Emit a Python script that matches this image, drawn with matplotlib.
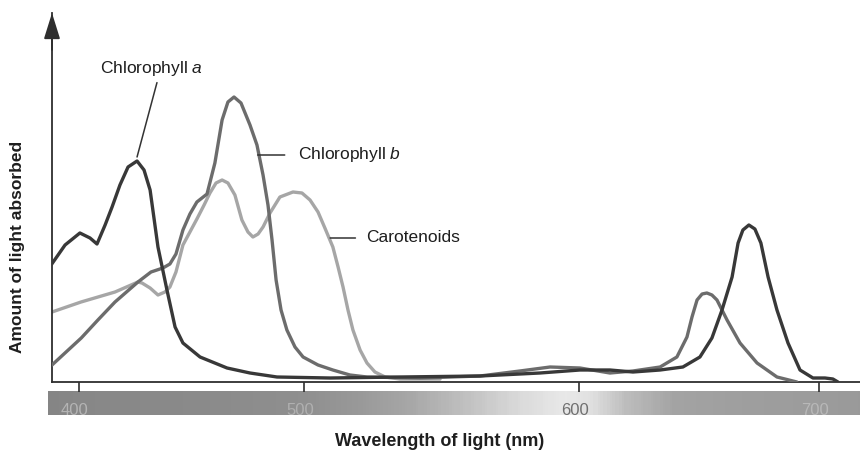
import numpy as np
import matplotlib
matplotlib.use("Agg")
import matplotlib.pyplot as plt
from matplotlib.colors import LinearSegmentedColormap
from matplotlib.transforms import ScaledTranslation

plt.rcParams['font.family'] = ['Liberation Sans', 'DejaVu Sans']
plt.rcParams['mathtext.fontset'] = 'custom'
plt.rcParams['mathtext.rm'] = 'Liberation Sans'
plt.rcParams['mathtext.it'] = 'Liberation Sans:italic'

# ---------------- data (wavelength in nm, absorbance in arbitrary units) -------------
chla_nm = [387.6, 393.8, 400.4, 404.9, 408.0, 411.6, 414.7, 418.2, 421.8, 425.8, 428.9,
           431.6, 435.1, 439.1, 442.7, 446.2, 453.8, 465.8, 476.0, 488.0, 509.5, 534.9,
           564.0, 585.8, 600.4, 612.9, 622.5, 633.8, 643.3, 650.4, 655.4, 659.6, 663.8,
           666.3, 668.3, 670.8, 673.3, 675.8, 678.8, 682.5, 687.1, 692.1, 697.5, 702.5,
           705.8, 707.9]
chla_val = [117, 137, 149, 144, 138, 157, 175, 197, 215, 221, 212,
            192, 135, 92, 55, 39, 25, 14, 9, 5, 4, 5,
            6, 9, 12, 12, 10, 12, 15, 25, 44, 72, 105,
            139, 152, 157, 153, 139, 105, 72, 39, 12, 4, 4,
            3, 0]

chlb_nm = [388.0, 401.0, 408.4, 416.0, 426.2, 432.0, 437.3, 440.4, 443.1, 446.2, 449.3,
           452.4, 456.9, 460.4, 463.6, 466.2, 468.9, 472.0, 476.0, 479.1, 481.8, 484.0,
           485.8, 487.6, 489.8, 492.4, 496.0, 499.6, 505.1, 510.5, 516.7, 522.9, 542.2,
           564.0, 578.5, 589.5, 600.4, 612.9, 622.5, 633.8, 640.8, 645.0, 647.1, 649.2,
           651.3, 653.3, 655.4, 657.5, 661.7, 667.1, 674.2, 682.5, 690.8]
chlb_val = [17, 44, 62, 80, 100, 110, 114, 118, 128, 152, 168,
            180, 188, 219, 262, 280, 285, 279, 257, 237, 207, 177,
            142, 102, 72, 52, 35, 25, 17, 12, 7, 5, 4,
            6, 11, 15, 14, 9, 11, 15, 25, 45, 65, 82,
            88, 89, 87, 82, 62, 39, 19, 5, 0]

car_nm = [388.0, 400.9, 416.0, 426.2, 428.0, 431.6, 435.1, 438.2, 440.4, 443.1, 446.2,
          449.3, 452.4, 455.6, 458.2, 460.9, 463.6, 466.2, 469.3, 472.4, 475.1, 477.3,
          479.6, 481.8, 484.9, 489.3, 495.1, 499.1, 502.2, 505.1, 507.6, 510.5, 512.4,
          514.2, 516.0, 517.8, 520.4, 522.9, 525.8, 529.5, 534.9, 549.5]
car_val = [70, 80, 90, 100, 99, 94, 87, 90, 95, 110, 137,
           150, 163, 177, 189, 199, 202, 199, 187, 162, 150, 145,
           148, 155, 169, 185, 190, 189, 182, 170, 154, 135, 115,
           95, 72, 52, 32, 19, 10, 5, 3, 3]

series_names = ["Chlorophyll $\\mathit{a}$", "Chlorophyll $\\mathit{b}$", "Carotenoids"]
tick_values = [400, 500, 600, 700]
tick_labels = ["400", "500", "600", "700"]

# grey rendering of the visible spectrum bar
spec_nm = [385, 400, 450, 500, 520, 540, 560, 580, 595, 605, 620, 640, 670, 700, 720]
spec_grey = [0.52, 0.53, 0.54, 0.56, 0.60, 0.66, 0.76, 0.86, 0.91, 0.88, 0.74, 0.64, 0.62, 0.61, 0.60]

# axis mapping read from the printed tick positions (the drawn axis is not linear)
scale_nm = [360, 400, 500, 600, 700, 740]
scale_pos = [-11, 79, 304, 579, 819, 915]


def fwd(v):
    return np.interp(v, scale_nm, scale_pos)


def inv(p):
    return np.interp(p, scale_pos, scale_nm)


W, H = 860, 457
fig = plt.figure(figsize=(W / 100, H / 100), dpi=100)
fig.patch.set_facecolor('white')

ax = fig.add_axes([52 / W, (H - 382) / H, (W - 52) / W, 369 / H])
ax.set_xscale('function', functions=(fwd, inv))
ax.set_xlim(388.0, 717.1)
ax.set_ylim(0, 369)

axis_col = '#2e2e2e'
ax.plot(car_nm, car_val, color='#a6a6a6', lw=2.4, solid_joinstyle='round', solid_capstyle='round', zorder=2)
ax.plot(chlb_nm, chlb_val, color='#6c6c6c', lw=2.4, solid_joinstyle='round', solid_capstyle='round', zorder=3)
ax.plot(chla_nm, chla_val, color='#383838', lw=2.4, solid_joinstyle='round', solid_capstyle='round', zorder=4)

for s in ['top', 'right']:
    ax.spines[s].set_visible(False)
for s in ['left', 'bottom']:
    ax.spines[s].set_color(axis_col)
    ax.spines[s].set_linewidth(1.3)

ax.set_yticks([])
ax.set_xticks(tick_values)
ax.set_xticklabels(tick_labels)
ax.xaxis.set_minor_locator(matplotlib.ticker.NullLocator())
ax.tick_params(axis='x', direction='out', length=7, width=1.2, color=axis_col,
               pad=8, labelsize=12)
label_cols = ['#b4b4b4', '#b0b0b0', '#707070', '#b8b8b8']
shift = ScaledTranslation(-4 / 100, 0, fig.dpi_scale_trans)
for lab, c in zip(ax.get_xticklabels(), label_cols):
    lab.set_color(c)
    lab.set_zorder(10)
    lab.set_transform(lab.get_transform() + shift)

# arrow head on the y axis
ax.annotate('', xy=(0, 1.0), xytext=(0, 0.9), xycoords='axes fraction',
            arrowprops=dict(arrowstyle='-|>,head_length=0.8,head_width=0.25',
                            mutation_scale=20, color=axis_col, lw=1.3, shrinkA=0, shrinkB=0),
            annotation_clip=False)

# spectrum bar below the axis
bax = fig.add_axes([48 / W, (H - 415) / H, (W - 48) / W, 24 / H], zorder=0)
bax.set_xscale('function', functions=(fwd, inv))
edges = np.linspace(386.2, 717.1, 331)
centres = 0.5 * (edges[1:] + edges[:-1])
cmap = LinearSegmentedColormap.from_list(
    'spec', [((n - spec_nm[0]) / (spec_nm[-1] - spec_nm[0]), (g, g, g)) for n, g in zip(spec_nm, spec_grey)])
bax.pcolormesh(edges, [0, 1], centres[np.newaxis, :], cmap=cmap,
               vmin=spec_nm[0], vmax=spec_nm[-1], shading='flat')
bax.set_xlim(386.2, 717.1)
bax.set_ylim(0, 1)
bax.axis('off')
ax.set_zorder(2)
ax.patch.set_alpha(0)

# labels with leader lines
ia = int(np.argmax(chla_val[:20]))
ax.annotate(series_names[0], xy=(chla_nm[ia], chla_val[ia] + 4), xytext=(432.4, 313),
            ha='center', va='center', fontsize=12.5, color='#1e1e1e',
            arrowprops=dict(arrowstyle='-', color='#333333', lw=1.1, shrinkA=1, shrinkB=0,
                            relpos=(0.56, 0.0)))
ax.annotate(series_names[1], xy=(479.4, 227), xytext=(497.3, 227),
            ha='left', va='center', fontsize=12.5, color='#1e1e1e',
            arrowprops=dict(arrowstyle='-', color='#333333', lw=1.1, shrinkA=7.5, shrinkB=0,
                            relpos=(0.0, 0.5)))
ax.annotate(series_names[2], xy=(509.5, 144), xytext=(522.5, 144),
            ha='left', va='center', fontsize=12.5, color='#1e1e1e',
            arrowprops=dict(arrowstyle='-', color='#333333', lw=1.1, shrinkA=5.5, shrinkB=0,
                            relpos=(0.0, 0.5)))

fig.text(18 / W, 1 - 247 / H, 'Amount of light absorbed', rotation=90, ha='center', va='center',
         fontsize=12.5, fontweight='bold', color='#1e1e1e')
fig.text(440 / W, 1 - 441 / H, 'Wavelength of light (nm)', ha='center', va='center',
         fontsize=13, fontweight='bold', color='#1e1e1e')

fig.savefig('out.png', dpi=100, facecolor='white')
